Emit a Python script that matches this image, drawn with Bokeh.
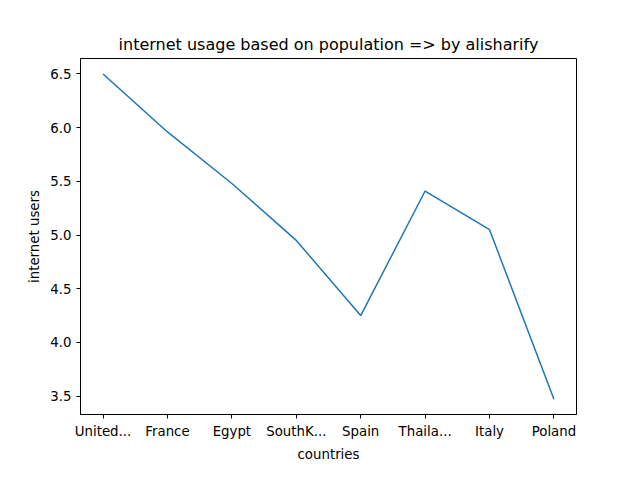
from bokeh.plotting import figure
from bokeh.models import Range1d, CustomJSTickFormatter, FixedTicker, Label
from bokeh.embed import file_html
from bokeh.resources import INLINE

countries = ["United...", "France", "Egypt", "SouthK...", "Spain", "Thaila...", "Italy", "Poland"]
users = [6.50e7, 5.96e7, 5.48e7, 4.95e7, 4.25e7, 5.41e7, 5.05e7, 3.47e7]
xs = list(range(len(countries)))

p = figure(width=624, height=464, output_backend="svg", toolbar_location=None,
           x_range=Range1d(-0.35, 7.35), y_range=Range1d(3.329e7, 6.644e7),
           x_axis_label="countries", y_axis_label="internet users",
           min_border_left=80, min_border_right=48, min_border_top=58, min_border_bottom=33)
p.title.text = "internet usage based on population => by alisharify"
p.title.align = "center"
p.title.text_font = "DejaVu Sans"
p.title.text_font_size = "12pt"
p.title.text_font_style = "normal"
p.title.text_color = "black"
p.line(xs, users, line_color="#1f77b4", line_width=1.5)

p.xaxis.ticker = FixedTicker(ticks=xs)
p.xaxis.major_label_overrides = {i: c for i, c in enumerate(countries)}
p.yaxis.ticker = FixedTicker(ticks=[3.5e7, 4e7, 4.5e7, 5e7, 5.5e7, 6e7, 6.5e7])
p.yaxis.formatter = CustomJSTickFormatter(code="return (tick/1e7).toFixed(1);")
for ax in (p.xaxis, p.yaxis):
    ax.major_label_text_font = "DejaVu Sans"
    ax.major_label_text_font_size = "10pt"
    ax.major_label_text_color = "black"
    ax.axis_label_text_font = "DejaVu Sans"
    ax.axis_label_text_font_size = "10pt"
    ax.axis_label_text_font_style = "normal"
    ax.axis_label_text_color = "black"
    ax.minor_tick_line_color = None
    ax.major_tick_out = 4
    ax.major_tick_in = 0
    ax.axis_line_color = "black"
p.grid.visible = False
p.outline_line_color = "black"
p.add_layout(Label(x=-0.35, y=6.644e7, y_offset=4, text="1e7", text_color="black",
                   text_font="DejaVu Sans", text_font_size="10pt"))

open("out.html", "w").write(file_html(p, INLINE))
